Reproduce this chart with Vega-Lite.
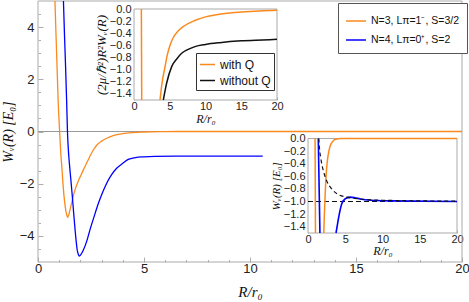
{
  "$schema": "https://vega.github.io/schema/vega-lite/v6.json",
  "width": 424,
  "height": 261,
  "autosize": {"type": "none"},
  "padding": {"left": 38, "top": 1, "right": 7, "bottom": 40},
  "background": "white",
  "config": {
    "view": {"stroke": null},
    "axis": {"grid": false, "domain": false, "zindex": 1, "labelFont": "Liberation Sans", "labelColor": "#222", "tickColor": "#999", "tickWidth": 0.8, "titleFont": "Liberation Serif", "titleFontStyle": "italic", "titleFontWeight": "normal", "titleColor": "#111", "labelOverlap": false, "labelSeparation": -6, "labelFlush": false, "labelBound": false},
    "legend": {"labelFont": "Liberation Sans", "labelColor": "#111"}
  },
  "datasets": {
    "main": [
      {"R": 0.80, "W": 5.0, "s": "o"}, {"R": 0.85, "W": 3.7, "s": "o"}, {"R": 0.90, "W": 2.45, "s": "o"}, {"R": 0.95, "W": 1.2, "s": "o"}, {"R": 1.02, "W": 0.0, "s": "o"}, {"R": 1.08, "W": -0.9, "s": "o"}, {"R": 1.12, "W": -1.3, "s": "o"}, {"R": 1.17, "W": -1.9, "s": "o"}, {"R": 1.23, "W": -2.5, "s": "o"}, {"R": 1.28, "W": -2.85, "s": "o"}, {"R": 1.32, "W": -3.07, "s": "o"}, {"R": 1.36, "W": -3.2, "s": "o"}, {"R": 1.40, "W": -3.29, "s": "o"}, {"R": 1.45, "W": -3.2, "s": "o"}, {"R": 1.51, "W": -3.0, "s": "o"}, {"R": 1.60, "W": -2.7, "s": "o"}, {"R": 1.67, "W": -2.45, "s": "o"}, {"R": 1.78, "W": -2.15, "s": "o"}, {"R": 1.90, "W": -1.9, "s": "o"}, {"R": 2.0, "W": -1.72, "s": "o"}, {"R": 2.14, "W": -1.47, "s": "o"}, {"R": 2.3, "W": -1.2, "s": "o"}, {"R": 2.45, "W": -0.95, "s": "o"}, {"R": 2.61, "W": -0.71, "s": "o"}, {"R": 2.8, "W": -0.5, "s": "o"}, {"R": 3.0, "W": -0.37, "s": "o"}, {"R": 3.24, "W": -0.26, "s": "o"}, {"R": 3.55, "W": -0.16, "s": "o"}, {"R": 3.87, "W": -0.1, "s": "o"}, {"R": 4.3, "W": -0.05, "s": "o"}, {"R": 5.0, "W": -0.02, "s": "o"}, {"R": 6.0, "W": -0.005, "s": "o"}, {"R": 7.0, "W": 0.0, "s": "o"}, {"R": 20.0, "W": 0.0, "s": "o"},
      {"R": 1.20, "W": 5.0, "s": "b"}, {"R": 1.25, "W": 3.7, "s": "b"}, {"R": 1.30, "W": 2.5, "s": "b"}, {"R": 1.35, "W": 1.2, "s": "b"}, {"R": 1.39, "W": 0.0, "s": "b"}, {"R": 1.44, "W": -0.8, "s": "b"}, {"R": 1.48, "W": -1.22, "s": "b"}, {"R": 1.55, "W": -1.85, "s": "b"}, {"R": 1.62, "W": -2.5, "s": "b"}, {"R": 1.68, "W": -3.1, "s": "b"}, {"R": 1.75, "W": -3.77, "s": "b"}, {"R": 1.80, "W": -4.2, "s": "b"}, {"R": 1.85, "W": -4.54, "s": "b"}, {"R": 1.90, "W": -4.7, "s": "b"}, {"R": 1.95, "W": -4.77, "s": "b"}, {"R": 2.02, "W": -4.72, "s": "b"}, {"R": 2.14, "W": -4.54, "s": "b"}, {"R": 2.3, "W": -4.2, "s": "b"}, {"R": 2.45, "W": -3.77, "s": "b"}, {"R": 2.65, "W": -3.25, "s": "b"}, {"R": 2.85, "W": -2.75, "s": "b"}, {"R": 3.05, "W": -2.33, "s": "b"}, {"R": 3.24, "W": -1.98, "s": "b"}, {"R": 3.45, "W": -1.68, "s": "b"}, {"R": 3.71, "W": -1.41, "s": "b"}, {"R": 4.0, "W": -1.22, "s": "b"}, {"R": 4.26, "W": -1.07, "s": "b"}, {"R": 4.6, "W": -1.0, "s": "b"}, {"R": 5.0, "W": -0.97, "s": "b"}, {"R": 5.5, "W": -0.95, "s": "b"}, {"R": 6.5, "W": -0.94, "s": "b"}, {"R": 8.0, "W": -0.94, "s": "b"}, {"R": 10.6, "W": -0.94, "s": "b"}
    ],
    "in1": [
      {"R": 1.03, "V": 0.0, "s": "with Q", "seg": "a"}, {"R": 1.08, "V": -1.5, "s": "with Q", "seg": "a"},
      {"R": 3.64, "V": -1.5, "s": "with Q", "seg": "b"}, {"R": 3.9, "V": -1.24, "s": "with Q", "seg": "b"}, {"R": 4.34, "V": -0.95, "s": "with Q", "seg": "b"}, {"R": 4.65, "V": -0.76, "s": "with Q", "seg": "b"}, {"R": 5.03, "V": -0.6, "s": "with Q", "seg": "b"}, {"R": 5.5, "V": -0.47, "s": "with Q", "seg": "b"}, {"R": 6.2, "V": -0.36, "s": "with Q", "seg": "b"}, {"R": 7.0, "V": -0.28, "s": "with Q", "seg": "b"}, {"R": 8.5, "V": -0.19, "s": "with Q", "seg": "b"}, {"R": 10.0, "V": -0.13, "s": "with Q", "seg": "b"}, {"R": 11.5, "V": -0.095, "s": "with Q", "seg": "b"}, {"R": 13.0, "V": -0.07, "s": "with Q", "seg": "b"}, {"R": 15.5, "V": -0.045, "s": "with Q", "seg": "b"}, {"R": 18.0, "V": -0.03, "s": "with Q", "seg": "b"}, {"R": 20.0, "V": -0.02, "s": "with Q", "seg": "b"},
      {"R": 4.1, "V": -1.5, "s": "without Q", "seg": "c"}, {"R": 4.57, "V": -1.22, "s": "without Q", "seg": "c"}, {"R": 5.27, "V": -0.95, "s": "without Q", "seg": "c"}, {"R": 6.0, "V": -0.82, "s": "without Q", "seg": "c"}, {"R": 6.67, "V": -0.73, "s": "without Q", "seg": "c"}, {"R": 7.5, "V": -0.67, "s": "without Q", "seg": "c"}, {"R": 8.53, "V": -0.62, "s": "without Q", "seg": "c"}, {"R": 10.0, "V": -0.585, "s": "without Q", "seg": "c"}, {"R": 12.0, "V": -0.555, "s": "without Q", "seg": "c"}, {"R": 15.0, "V": -0.525, "s": "without Q", "seg": "c"}, {"R": 18.0, "V": -0.51, "s": "without Q", "seg": "c"}, {"R": 20.0, "V": -0.5, "s": "without Q", "seg": "c"}
    ],
    "in2": [
      {"R": 0.95, "W": 0.0, "s": "o", "seg": "a"}, {"R": 1.0, "W": -1.5, "s": "o", "seg": "a"},
      {"R": 2.12, "W": -1.5, "s": "o", "seg": "b"}, {"R": 2.2, "W": -1.2, "s": "o", "seg": "b"}, {"R": 2.3, "W": -0.9, "s": "o", "seg": "b"}, {"R": 2.45, "W": -0.55, "s": "o", "seg": "b"}, {"R": 2.6, "W": -0.35, "s": "o", "seg": "b"}, {"R": 2.8, "W": -0.2, "s": "o", "seg": "b"}, {"R": 3.0, "W": -0.11, "s": "o", "seg": "b"}, {"R": 3.3, "W": -0.05, "s": "o", "seg": "b"}, {"R": 3.6, "W": -0.015, "s": "o", "seg": "b"}, {"R": 4.5, "W": 0.0, "s": "o", "seg": "b"}, {"R": 20.0, "W": 0.0, "s": "o", "seg": "b"},
      {"R": 1.38, "W": 0.0, "s": "b", "seg": "a"}, {"R": 1.6, "W": -1.5, "s": "b", "seg": "a"},
      {"R": 3.76, "W": -1.5, "s": "b", "seg": "b"}, {"R": 4.0, "W": -1.33, "s": "b", "seg": "b"}, {"R": 4.2, "W": -1.2, "s": "b", "seg": "b"}, {"R": 4.52, "W": -1.04, "s": "b", "seg": "b"}, {"R": 4.97, "W": -0.96, "s": "b", "seg": "b"}, {"R": 5.64, "W": -0.93, "s": "b", "seg": "b"}, {"R": 6.3, "W": -0.94, "s": "b", "seg": "b"}, {"R": 7.0, "W": -0.96, "s": "b", "seg": "b"}, {"R": 8.5, "W": -0.98, "s": "b", "seg": "b"}, {"R": 11.0, "W": -0.99, "s": "b", "seg": "b"}, {"R": 20.0, "W": -1.0, "s": "b", "seg": "b"},
      {"R": 1.45, "W": 0.0, "s": "k", "seg": "a"}, {"R": 1.55, "W": -0.17, "s": "k", "seg": "a"}, {"R": 1.7, "W": -0.3, "s": "k", "seg": "a"}, {"R": 1.84, "W": -0.4, "s": "k", "seg": "a"}, {"R": 2.1, "W": -0.53, "s": "k", "seg": "a"}, {"R": 2.5, "W": -0.67, "s": "k", "seg": "a"}, {"R": 3.18, "W": -0.8, "s": "k", "seg": "a"}, {"R": 4.07, "W": -0.89, "s": "k", "seg": "a"}, {"R": 5.2, "W": -0.93, "s": "k", "seg": "a"}, {"R": 7.0, "W": -0.96, "s": "k", "seg": "a"}, {"R": 10.0, "W": -0.98, "s": "k", "seg": "a"}, {"R": 20.0, "W": -0.995, "s": "k", "seg": "a"}
    ]
  },
  "layer": [
    {
      "layer": [
        {
          "data": {"values": [{}]},
          "mark": {"type": "rect", "fill": null, "stroke": "#aaa", "strokeWidth": 1},
          "encoding": {
            "x": {"datum": 0, "type": "quantitative", "scale": {"domain": [0, 20], "nice": false, "zero": false}, "axis": {"orient": "bottom", "values": [1, 2, 3, 4, 6, 7, 8, 9, 11, 12, 13, 14, 16, 17, 18, 19], "labels": false, "tickSize": -2.5, "title": null}},
            "x2": {"datum": 20},
            "y": {"datum": -5, "type": "quantitative", "scale": {"domain": [-5, 5], "nice": false, "zero": false}, "axis": {"orient": "left", "values": [-4.5, -3.5, -3, -2.5, -1.5, -1, -0.5, 0.5, 1, 1.5, 2.5, 3, 3.5, 4.5], "labels": false, "tickSize": -2.5, "title": null}},
            "y2": {"datum": 5}
          }
        },
        {
          "data": {"values": [{}]},
          "mark": {"type": "rule", "color": "#999", "strokeWidth": 1.2},
          "encoding": {"y": {"datum": 0, "type": "quantitative", "axis": null}}
        },
        {
          "data": {"name": "main"},
          "mark": {"type": "line", "strokeWidth": 1.3, "interpolate": "monotone"},
          "encoding": {
            "x": {"field": "R", "type": "quantitative", "sort": null, "scale": {"domain": [0, 20], "nice": false, "zero": false}, "axis": {"orient": "bottom", "values": [0, 5, 10, 15, 20], "format": "d", "tickSize": -5, "labelPadding": 5, "labelFontSize": 13, "labelOverlap": false, "title": "R/r₀", "titleFontSize": 15, "titlePadding": 9}},
            "y": {"field": "W", "type": "quantitative", "scale": {"domain": [-5, 5], "nice": false, "zero": false}, "axis": {"orient": "left", "values": [-4, -2, 0, 2, 4], "format": "d", "tickSize": -5, "labelPadding": 9, "labelFontSize": 13, "labelOverlap": false, "title": "Wᵥ(R) [E₀]", "titleFontSize": 14, "titlePadding": 4}},
            "color": {"field": "s", "type": "nominal", "scale": {"domain": ["o", "b"], "range": ["#fb8a1e", "#0000ff"]}, "legend": {"orient": "none", "legendX": 300, "legendY": 2, "title": null, "symbolType": "stroke", "symbolSize": 400, "symbolStrokeWidth": 1.5, "labelFontSize": 10.5, "labelOffset": 4, "padding": 7, "rowPadding": 2, "strokeColor": "#555", "fillColor": "white", "labelExpr": "datum.value === 'o' ? 'N=3, Lπ=1⁻, S=3/2' : 'N=4, Lπ=0⁺, S=2'"}},
            "order": {"field": "R", "type": "quantitative"}
          }
        }
      ],
      "resolve": {"axis": {"x": "independent", "y": "independent"}}
    },
    {
      "layer": [
        {
          "data": {"values": [{}]},
          "mark": {"type": "rect", "fill": "white", "stroke": "#aaa", "strokeWidth": 1},
          "encoding": {
            "x": {"datum": 0, "type": "quantitative", "scale": {"domain": [0, 20], "range": [96, 239], "nice": false, "zero": false}, "axis": null},
            "x2": {"datum": 20},
            "y": {"datum": -1.5, "type": "quantitative", "scale": {"domain": [-1.5, 0], "range": [99, 8], "nice": false, "zero": false}, "axis": null},
            "y2": {"datum": 0}
          }
        },
        {
          "data": {"name": "in1"},
          "mark": {"type": "line", "strokeWidth": 1.5, "interpolate": "monotone"},
          "encoding": {
            "x": {"field": "R", "type": "quantitative", "scale": {"domain": [0, 20], "range": [96, 239], "nice": false, "zero": false}, "axis": {"orient": "bottom", "offset": -162, "values": [0, 5, 10, 15, 20], "format": "d", "tickSize": -3, "labelPadding": 3, "labelFontSize": 11, "labelOverlap": false, "title": "R/r₀", "titleFontSize": 12, "titlePadding": 2}},
            "y": {"field": "V", "type": "quantitative", "scale": {"domain": [-1.5, 0], "range": [99, 8], "nice": false, "zero": false}, "axis": {"orient": "left", "offset": -96, "values": [0, -0.2, -0.4, -0.6, -0.8, -1.0, -1.2, -1.4], "format": ".1f", "tickSize": -3, "labelPadding": 6, "labelFontSize": 11, "labelOverlap": false, "labelSeparation": -6, "title": "(2μ/ℏ²)R²Wᵥ(R)", "titleFontSize": 13, "titlePadding": 1}},
            "color": {"field": "s", "type": "nominal", "scale": {"domain": ["with Q", "without Q"], "range": ["#fb8a1e", "#111111"]}, "legend": {"orient": "none", "legendX": 158, "legendY": 52, "title": null, "symbolType": "stroke", "symbolSize": 225, "symbolStrokeWidth": 1.5, "labelFontSize": 12, "labelOffset": 4, "padding": 3, "rowPadding": 1, "strokeColor": "#333", "fillColor": "white"}},
            "detail": {"field": "seg"},
            "order": {"field": "R", "type": "quantitative"}
          }
        }
      ],
      "resolve": {"axis": {"x": "independent", "y": "independent"}}
    },
    {
      "data": {"name": "in2"},
      "layer": [
        {
          "data": {"values": [{}]},
          "mark": {"type": "rect", "fill": "white", "stroke": "#aaa", "strokeWidth": 1},
          "encoding": {
            "x": {"datum": 0, "type": "quantitative", "scale": {"domain": [0, 20], "range": [270, 419], "nice": false, "zero": false}, "axis": {"orient": "bottom", "offset": -29, "values": [0, 5, 10, 15, 20], "format": "d", "tickSize": -3, "labelPadding": 3, "labelFontSize": 11, "labelOverlap": false, "title": "R/r₀", "titleFontSize": 12, "titlePadding": 1}},
            "x2": {"datum": 20},
            "y": {"datum": -1.5, "type": "quantitative", "scale": {"domain": [-1.5, 0], "range": [232, 137.5], "nice": false, "zero": false}, "axis": {"orient": "left", "offset": -270, "values": [0, -0.2, -0.4, -0.6, -0.8, -1.0, -1.2, -1.4], "format": ".1f", "tickSize": -3, "labelPadding": 6, "labelFontSize": 11, "labelOverlap": false, "labelSeparation": -6, "title": "Wᵥ(R) [E₀]", "titleFontSize": 11, "titlePadding": 2}},
            "y2": {"datum": 0}
          }
        },
        {
          "data": {"values": [{}]},
          "mark": {"type": "rule", "color": "#111", "strokeWidth": 1.2, "strokeDash": [5, 3]},
          "encoding": {"x": {"datum": 0, "type": "quantitative", "axis": null}, "x2": {"datum": 20}, "y": {"datum": -1.0, "type": "quantitative", "axis": null}}
        },
        {
          "transform": [{"filter": "datum.s === 'o'"}],
          "mark": {"type": "line", "strokeWidth": 1.5, "color": "#fb8a1e", "interpolate": "monotone"},
          "encoding": {"x": {"field": "R", "type": "quantitative", "axis": null}, "y": {"field": "W", "type": "quantitative", "axis": null}, "detail": {"field": "seg"}, "order": {"field": "R", "type": "quantitative"}}
        },
        {
          "transform": [{"filter": "datum.s === 'b'"}],
          "mark": {"type": "line", "strokeWidth": 1.6, "color": "#0000ff", "interpolate": "monotone"},
          "encoding": {"x": {"field": "R", "type": "quantitative", "axis": null}, "y": {"field": "W", "type": "quantitative", "axis": null}, "detail": {"field": "seg"}, "order": {"field": "R", "type": "quantitative"}}
        },
        {
          "transform": [{"filter": "datum.s === 'k'"}],
          "mark": {"type": "line", "strokeWidth": 1.2, "color": "#111", "strokeDash": [4, 3], "interpolate": "monotone"},
          "encoding": {"x": {"field": "R", "type": "quantitative", "axis": null}, "y": {"field": "W", "type": "quantitative", "axis": null}, "detail": {"field": "seg"}, "order": {"field": "R", "type": "quantitative"}}
        }
      ],
      "resolve": {"axis": {"x": "independent", "y": "independent"}}
    }
  ],
  "resolve": {"scale": {"x": "independent", "y": "independent", "color": "independent"}, "legend": {"color": "independent"}}
}
